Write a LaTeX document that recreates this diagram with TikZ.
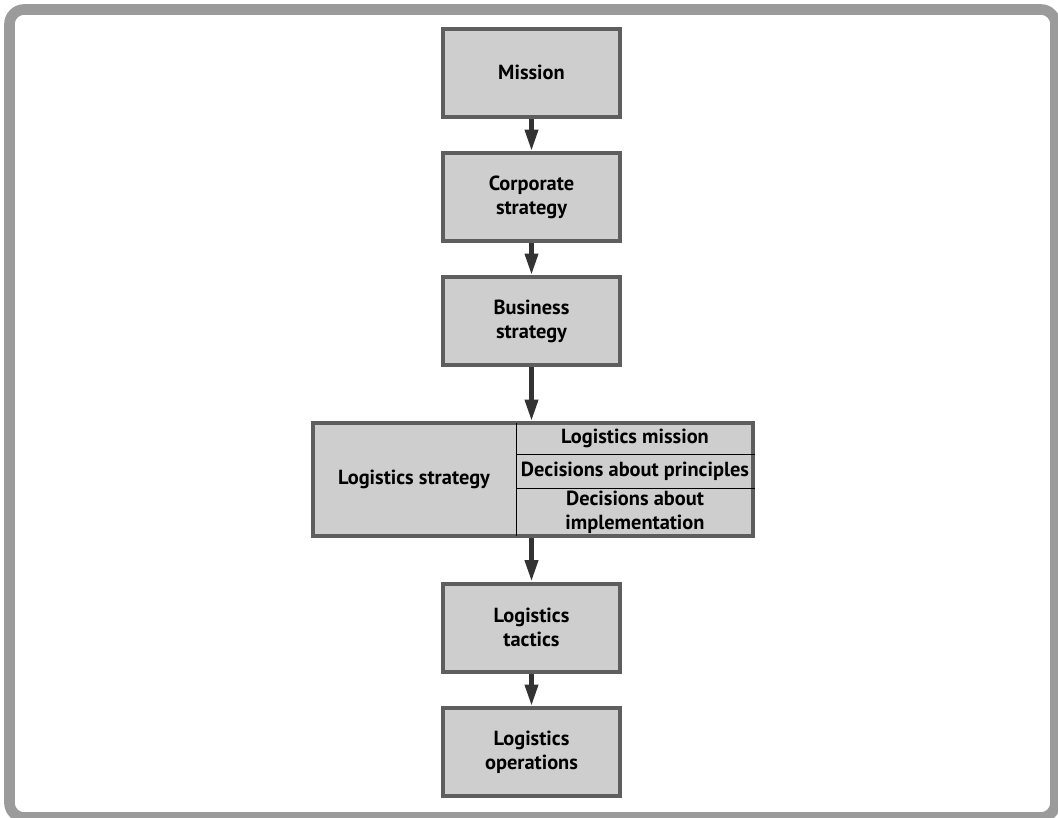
\documentclass[tikz,border=0pt]{standalone}
\usepackage{fontspec}
\setmainfont{PT Sans}
\usetikzlibrary{arrows.meta}
\definecolor{framegray}{HTML}{9B9B9B}
\definecolor{boxfill}{HTML}{CECECE}
\definecolor{boxedge}{HTML}{5E5E5E}
\definecolor{arrowdark}{HTML}{333333}
\tikzset{
  stagebox/.style={draw=boxedge, fill=boxfill, line width=3pt, inner sep=0pt,
    minimum width=132.75pt, minimum height=66pt, align=center,
    font=\fontsize{15.3}{18}\selectfont\bfseries},
  celltext/.style={inner sep=0pt, align=center,
    font=\fontsize{15.3}{18}\selectfont\bfseries},
  flow/.style={draw=arrowdark, line width=3.4pt,
    -{Triangle[width=9.5pt,length=16pt]}},
  cellrule/.style={draw=black, line width=1.1pt}
}
\begin{document}
\begin{tikzpicture}[x=0.75pt,y=-0.75pt]
\useasboundingbox (0,0) rectangle (1058,818);
% outer frame
\draw[framegray, line width=8pt, rounded corners=11pt] (9.5,9.5) rectangle (1055.5,817.5);

% main chain
\node[stagebox] (mission)   at (531.5,72.5) {Mission};
\node[stagebox] (corporate) at (531.5,197)  {Corporate\\strategy};
\node[stagebox] (business)  at (531.5,321)  {Business\\strategy};
\node[stagebox, minimum width=330pt, minimum height=84.75pt] (strategy) at (533,479.5) {};
\node[stagebox] (tactics)    at (531.5,627.5) {Logistics\\tactics};
\node[stagebox] (operations) at (531.5,752)   {Logistics\\operations};

% inner structure of the strategy box
\coordinate (divtop) at (516.7,423);
\coordinate (divbot) at (516.7,536);
\coordinate (rowa) at (516.7,454.3);
\coordinate (rowb) at (516.7,488.3);
\draw[cellrule] (divtop) -- (divbot);
\draw[cellrule] (rowa) -- (rowa -| strategy.east);
\draw[cellrule] (rowb) -- (rowb -| strategy.east);
\node[celltext] (stratlabel) at (414,479.5) {Logistics strategy};
\node[celltext] (lmission)   at (635,438.5) {Logistics mission};
\node[celltext] (principles) at (635,471)   {Decisions about principles};
\node[celltext] (implement)  at (635,512)   {Decisions about\\implementation};

% arrows
\draw[flow] (mission) -- (corporate);
\draw[flow] (corporate) -- (business);
\draw[flow] (business.south) -- (business.south |- strategy.north);
\draw[flow] (tactics.north |- strategy.south) -- (tactics.north);
\draw[flow] (tactics) -- (operations);
\end{tikzpicture}
\end{document}
